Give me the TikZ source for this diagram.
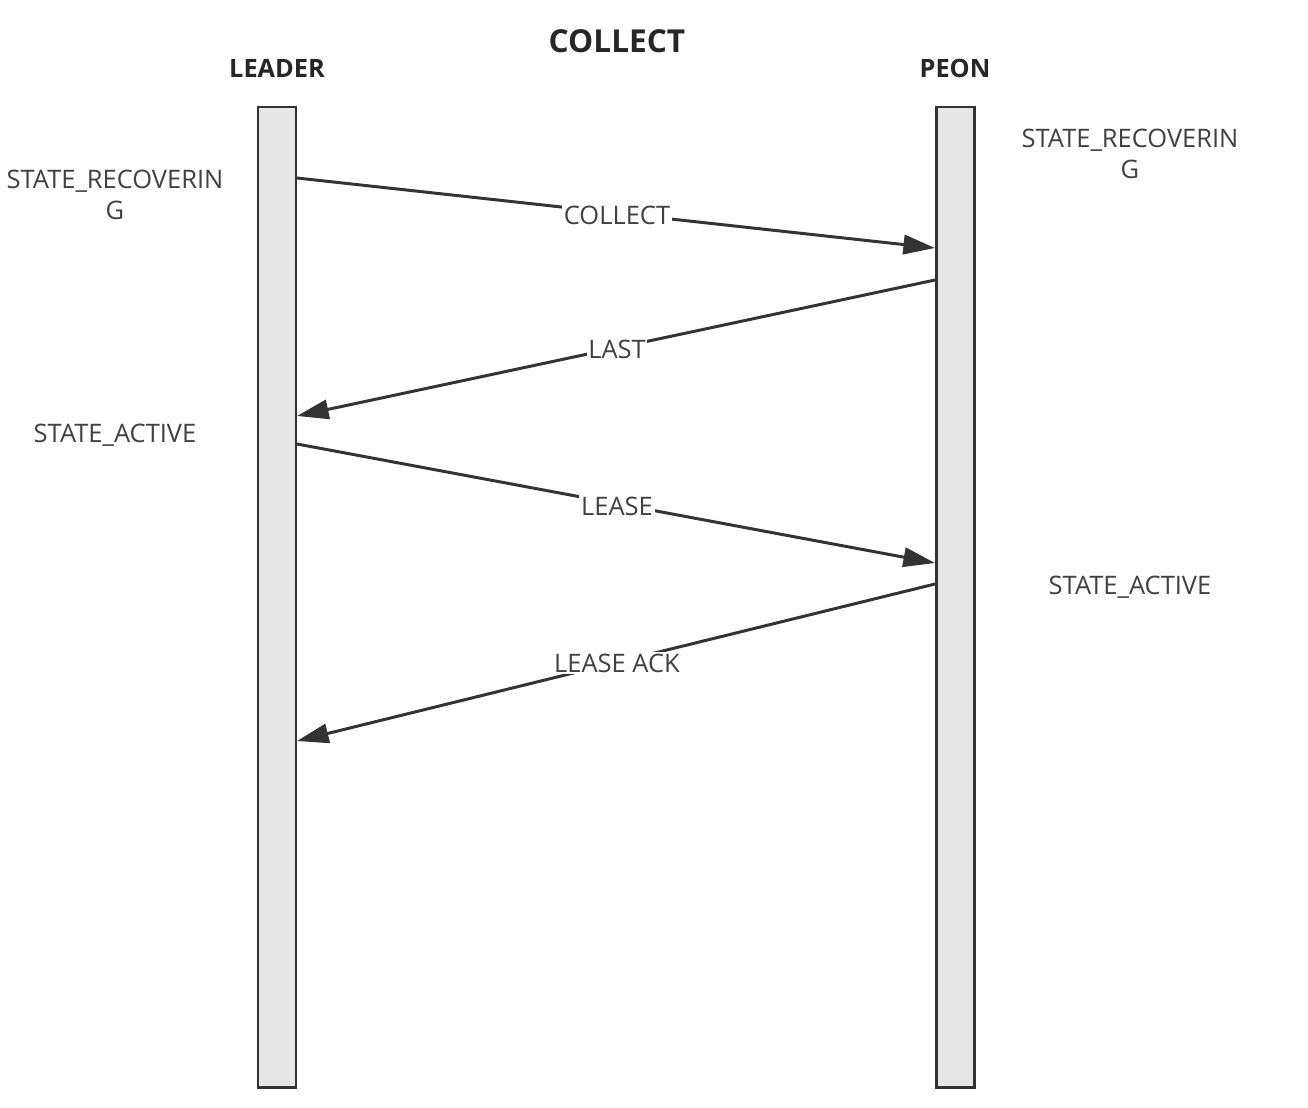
\documentclass[tikz,border=0pt]{standalone}
\usepackage{fontspec}
\setmainfont{Open Sans}
\usetikzlibrary{arrows.meta}
\definecolor{txt}{HTML}{404040}
\definecolor{barfill}{HTML}{E6E6E6}
\definecolor{ln}{HTML}{333333}
\begin{document}
\begin{tikzpicture}[x=0.02cm,y=-0.02cm,
  lifeline/.style={draw=ln,line width=1.7pt,fill=barfill},
  msg/.style={draw=ln,line width=1.7pt,-{Triangle[length=18pt,width=11pt]}},
  msglabel/.style={fill=white,text=txt,font=\fontsize{14.5}{16}\selectfont,inner sep=1pt},
  statelabel/.style={text=txt,font=\fontsize{14.5}{17.5}\selectfont,align=center},
  head/.style={text=black!85,font=\bfseries\fontsize{14.4}{16}\selectfont}]
\useasboundingbox (0,0) rectangle (1308,1108);
\fill[white] (0,0) rectangle (1308,1108);
\node[head,font=\bfseries\fontsize{18}{21}\selectfont] (title) at (617,41) {COLLECT};
\node[head] (leader) at (277,68) {LEADER};
\node[head] (peon) at (955,68) {PEON};
\draw[lifeline] (258,107) rectangle (296,1087);
\draw[lifeline] (936,107) rectangle (974,1087);
\coordinate (a1) at (297,178);
\coordinate (b1) at (935,248);
\coordinate (b2) at (935,280);
\coordinate (a2) at (297,416);
\coordinate (a3) at (297,444);
\coordinate (b3) at (935,563);
\coordinate (b4) at (935,584);
\coordinate (a4) at (297,741);
\draw[msg] (a1) -- (b1);
\draw[msg] (b2) -- (a2);
\draw[msg] (a3) -- (b3);
\draw[msg] (b4) -- (a4);
\node[msglabel] (l1) at (617,215) {COLLECT};
\node[msglabel] (l2) at (617,349) {LAST};
\node[msglabel] (l3) at (617,506) {LEASE};
\node[msglabel] (l4) at (617,663) {LEASE ACK};
\node[statelabel] (s1) at (115,195) {STATE\_RECOVERIN\\G};
\node[statelabel] (s2) at (1130,154) {STATE\_RECOVERIN\\G};
\node[statelabel] (s3) at (115,435) {STATE\_ACTIVE};
\node[statelabel] (s4) at (1130,587) {STATE\_ACTIVE};
\end{tikzpicture}
\end{document}
